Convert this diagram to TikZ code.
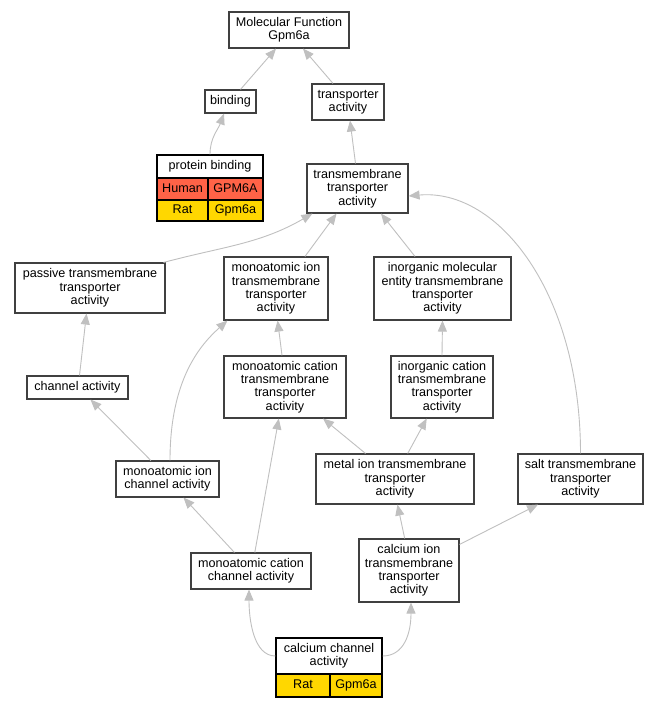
\documentclass[tikz,border=0pt]{standalone}
\usepackage{fontspec}
\setmainfont{Liberation Sans}
\usetikzlibrary{arrows.meta}
\definecolor{edgegray}{HTML}{C0C0C0}
\definecolor{humanc}{HTML}{FF6347}
\definecolor{ratc}{HTML}{FFD700}
\definecolor{boxline}{HTML}{404040}
\begin{document}
\begin{tikzpicture}[x=1pt,y=-1pt,
  box/.style={draw=boxline,line width=1.1pt,fill=white,inner sep=0pt,align=center,font=\fontsize{12.6}{13.3}\selectfont},
  cell/.style={draw=black,line width=1.1pt,inner sep=0pt,align=center,font=\fontsize{12.6}{13.3}\selectfont},
  onecell/.style={cell,text height=9pt,text depth=2.6pt},
  edge/.style={draw=edgegray,line width=0.9pt,-{Triangle[length=11pt,width=9pt]}}]
\fill[white] (0,0) rectangle (659,707);
\useasboundingbox (0,0) rectangle (659,707);
% nodes
\node[box,minimum width=120,minimum height=36] (mf) at (289,30) {Molecular Function\\Gpm6a};
\node[box,minimum width=51,minimum height=23] (bind) at (230.5,101.5) {binding};
\node[box,minimum width=72,minimum height=36] (tra) at (348,102) {transporter\\activity};
\node[cell,fill=white,minimum width=106,minimum height=23] (pb) at (210,166.5) {protein binding};
\node[onecell,fill=humanc,minimum width=51,minimum height=22] (pbh) at (182.5,189) {Human};
\node[onecell,fill=humanc,minimum width=55,minimum height=22] (pbhg) at (235.5,189) {GPM6A};
\node[onecell,fill=ratc,minimum width=51,minimum height=21] (pbr) at (182.5,210.5) {Rat};
\node[onecell,fill=ratc,minimum width=55,minimum height=21] (pbrg) at (235.5,210.5) {Gpm6a};
\node[box,minimum width=101,minimum height=49] (tm) at (357.5,188.5) {transmembrane\\transporter\\activity};
\node[box,minimum width=150,minimum height=50] (pas) at (90,288) {passive transmembrane\\transporter\\activity};
\node[box,minimum width=104,minimum height=63] (mitm) at (276,288.5) {monoatomic ion\\transmembrane\\transporter\\activity};
\node[box,minimum width=137,minimum height=63] (imol) at (442.5,288.5) {inorganic molecular\\entity transmembrane\\transporter\\activity};
\node[box,minimum width=101,minimum height=23] (cha) at (77.5,387.5) {channel activity};
\node[box,minimum width=122,minimum height=62] (mctm) at (285,387) {monoatomic cation\\transmembrane\\transporter\\activity};
\node[box,minimum width=102,minimum height=62] (icat) at (442,387) {inorganic cation\\transmembrane\\transporter\\activity};
\node[box,minimum width=158,minimum height=50] (met) at (395,479) {metal ion transmembrane\\transporter\\activity};
\node[box,minimum width=125,minimum height=50] (salt) at (580.5,479) {salt transmembrane\\transporter\\activity};
\node[box,minimum width=103,minimum height=36] (mich) at (167.5,479) {monoatomic ion\\channel activity};
\node[box,minimum width=120,minimum height=36] (mcch) at (251,571) {monoatomic cation\\channel activity};
\node[box,minimum width=100,minimum height=63] (caion) at (409,570.5) {calcium ion\\transmembrane\\transporter\\activity};
\node[cell,fill=white,minimum width=106,minimum height=36] (cach) at (329,656) {calcium channel\\activity};
\node[onecell,fill=ratc,minimum width=54,minimum height=23] (cachr) at (303,685.5) {Rat};
\node[onecell,fill=ratc,minimum width=52,minimum height=23] (cachg) at (356,685.5) {Gpm6a};
% edges
\draw[edge] ([xshift=10pt]bind.north) -- ([xshift=-13pt]mf.south);
\draw[edge] ([xshift=-15pt]tra.north) -- ([xshift=14pt]mf.south);
\draw[edge] (pb.north) to[out=90,in=-110] ([xshift=-6.5pt]bind.south);
\draw[edge] ([xshift=-2pt]tm.north) -- ([xshift=2pt]tra.south);
\draw[edge] ([xshift=-2pt]pas.north east) to[out=15,in=-150] ([xshift=6pt]tm.south west);
\draw[edge] ([xshift=29pt]mitm.north) -- ([xshift=-21pt]tm.south);
\draw[edge] ([xshift=-27.5pt]imol.north) -- ([xshift=23.5pt]tm.south);
\draw[edge] (salt.north) .. controls +(0,-160) and +(90,-8) .. ([yshift=-7.5pt]tm.east);
\draw[edge] ([xshift=2pt]cha.north) -- ([xshift=-3.5pt]pas.south);
\draw[edge] ([xshift=-16.7pt]mich.north) -- ([xshift=13pt]cha.south);
\draw[edge] ([xshift=2.5pt]mich.north) .. controls +(0,-80) and +(-28,25) .. ([xshift=4pt]mitm.south west);
\draw[edge] ([xshift=-3pt]mctm.north) -- ([xshift=1.6pt]mitm.south);
\draw[edge] (icat.north) -- (imol.south);
\draw[edge] ([xshift=-29.5pt]met.north) -- ([xshift=38pt]mctm.south);
\draw[edge] ([xshift=12.7pt]met.north) -- ([xshift=-15.3pt]icat.south);
\draw[edge] ([xshift=-16.6pt]mcch.north) -- ([xshift=16pt]mich.south);
\draw[edge] ([xshift=3.8pt]mcch.north) -- ([xshift=-6.2pt]mctm.south);
\draw[edge] ([xshift=-4.3pt]caion.north) -- ([xshift=2.5pt]met.south);
\draw[edge] ([yshift=-6pt]caion.north east) -- ([xshift=-42.5pt]salt.south);
\draw[edge] (cach.west) .. controls +(-22,0) and +(0,30) .. ([xshift=-2pt]mcch.south);
\draw[edge] (cach.east) .. controls +(22,0) and +(0,30) .. ([xshift=2pt]caion.south);
\end{tikzpicture}
\end{document}
